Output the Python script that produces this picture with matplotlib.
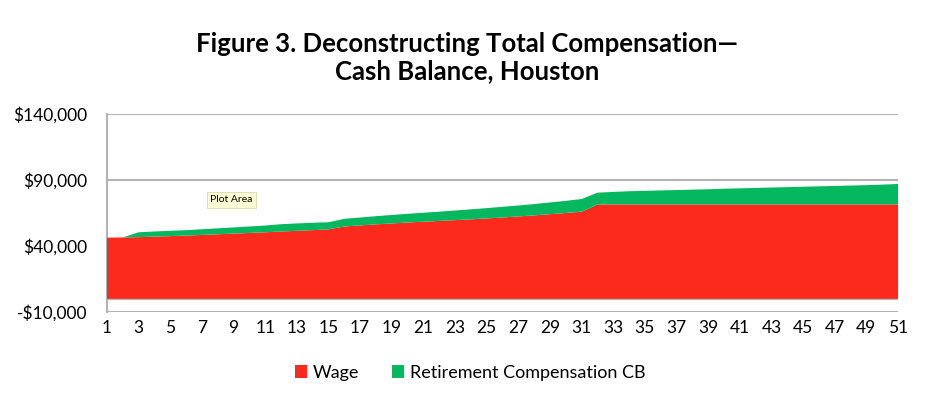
import matplotlib.pyplot as plt

# Years on the category axis
years = list(range(1, 52))

# Wage component ($)
wage = [46300, 46500, 46700, 47100, 47500, 47900, 48400, 48900, 49400, 49900,
        50400, 51000, 51500, 52000, 52600, 54800, 55600, 56400, 57100, 57800,
        58400, 59000, 59600, 60200, 60900, 61600, 62400, 63200, 64100, 65000,
        66000, 71500, 71500, 71500, 71500, 71500, 71500, 71500, 71500, 71500,
        71500, 71500, 71500, 71500, 71500, 71500, 71500, 71500, 71500, 71500,
        71500]

# Retirement compensation, cash balance plan ($)
retirement = [0, 0, 3700, 3900, 4000, 4100, 4300, 4500, 4700, 4900,
              5100, 5500, 5600, 5600, 5400, 5800, 6000, 6200, 6400, 6600,
              6800, 7000, 7300, 7600, 7800, 8100, 8300, 8600, 8900, 9200,
              9600, 8900, 9500, 10000, 10300, 10600, 10900, 11200, 11500, 11900,
              12200, 12500, 12800, 13100, 13400, 13700, 14000, 14300, 14600, 15000,
              15500]

series_names = ['Wage', 'Retirement Compensation CB']
y_ticks = [-10000, 40000, 90000, 140000]
x_ticks = list(range(1, 52, 2))

red = '#FC2A1C'
green = '#05B860'
grey = '#B3B3B3'

plt.rcParams['font.family'] = ['Lato', 'DejaVu Sans']

fig = plt.figure(figsize=(9.34, 4.05), dpi=100)
ax = fig.add_axes([107 / 934, 1 - 312 / 405, (898 - 107) / 934, (312 - 114) / 405])

ax.stackplot(years, wage, retirement, colors=[red, green], labels=series_names,
             zorder=3, linewidth=0)

# gridlines and the category axis crossing at zero
for v in y_ticks:
    ax.axhline(v, color=grey, linewidth=1.5, zorder=1)
ax.axhline(0, color=grey, linewidth=1.5, zorder=2)

ax.set_xlim(1, 51)
ax.set_ylim(-10000, 140000)
ax.set_xticks(x_ticks)
ax.set_xticklabels([str(x) for x in x_ticks], fontsize=12.5)
ax.set_yticks(y_ticks)
ax.set_yticklabels([('-$' if v < 0 else '$') + f'{abs(v):,}' for v in y_ticks], fontsize=12.5)
ax.tick_params(axis='both', length=0)
ax.tick_params(axis='y', pad=14)
ax.tick_params(axis='x', pad=6)

for s in ['top', 'right', 'bottom']:
    ax.spines[s].set_visible(False)
ax.spines['left'].set_color(grey)
ax.spines['left'].set_linewidth(1.5)

fig.text(0.5, 1 - 58 / 405, 'Figure 3. Deconstructing Total Compensation\u2014\nCash Balance, Houston',
         ha='center', va='center', fontsize=18.5, fontweight='bold', linespacing=1.15)

# Excel tooltip seen in the screenshot
fig.text(210 / 934, 1 - 200 / 405, 'Plot Area', fontsize=7.5, va='center', ha='left',
         bbox=dict(boxstyle='square,pad=0.3', facecolor='#FFFFD5', edgecolor='#D8D8B0', linewidth=0.6))

leg = fig.legend(loc='center', bbox_to_anchor=(470 / 934, 1 - 373 / 405), ncol=2, frameon=False,
                 fontsize=13, handlelength=0.7, handleheight=0.7, handletextpad=0.3, columnspacing=1.8)

fig.savefig('out.png', dpi=100)
